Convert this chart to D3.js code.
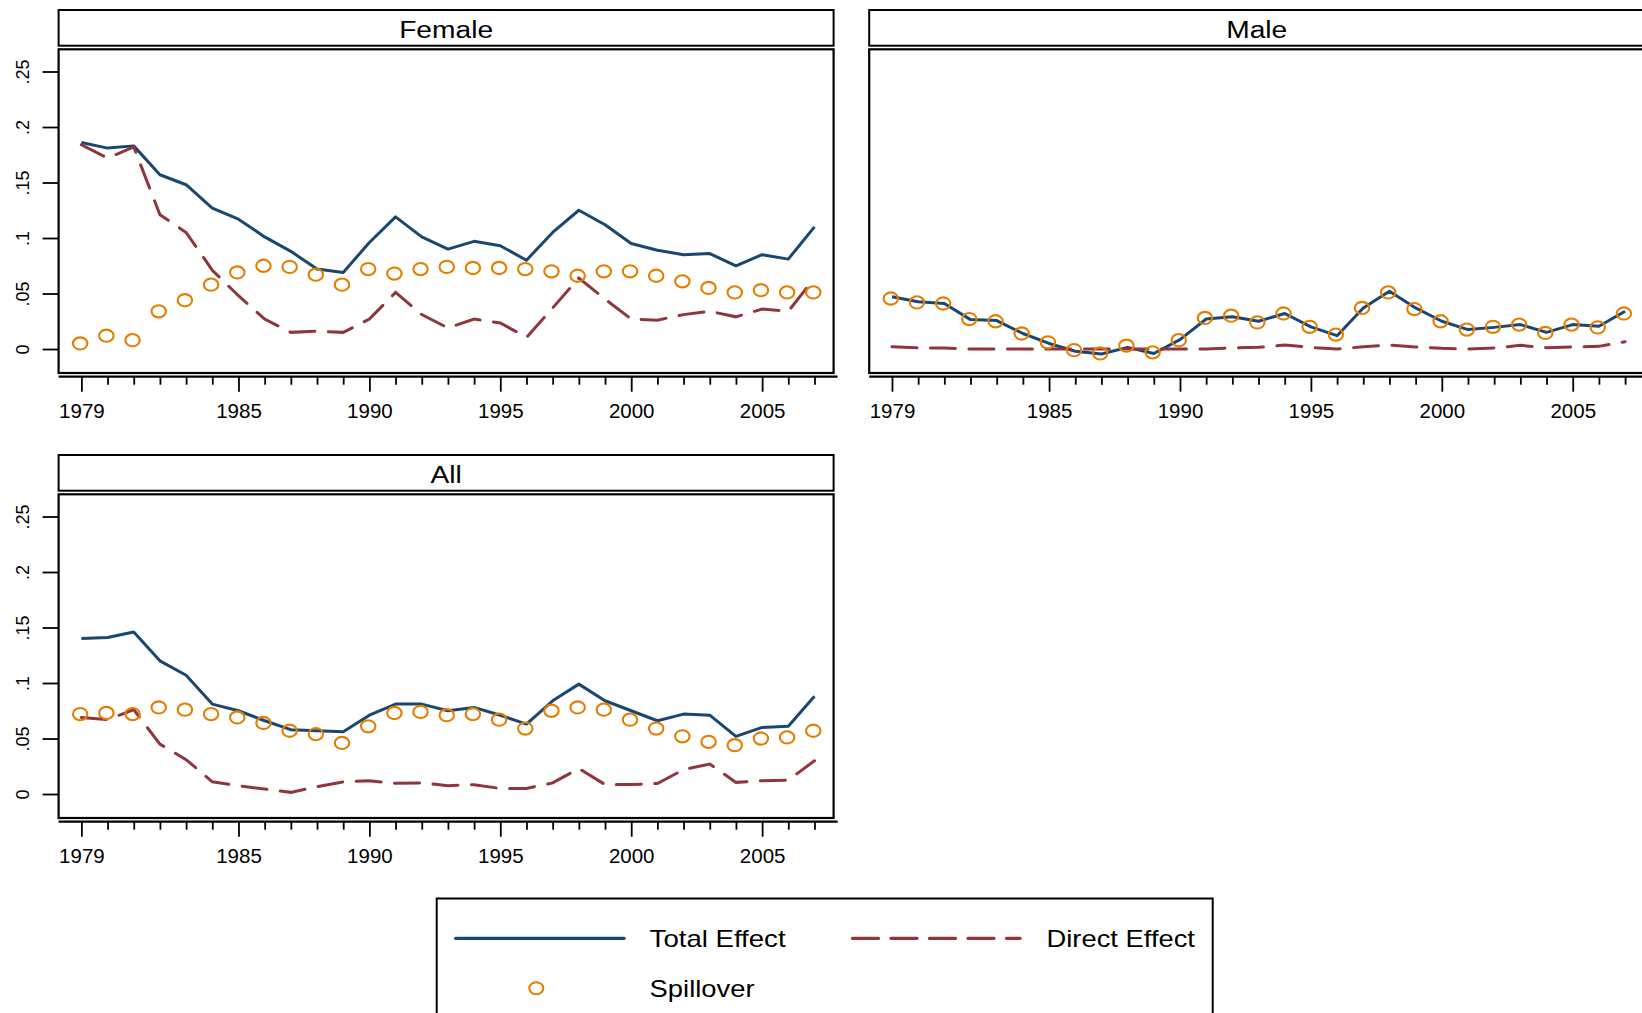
<!DOCTYPE html>
<html>
<head>
<meta charset="utf-8">
<script src="https://cdn.jsdelivr.net/npm/d3@7"></script>
<style>
  html, body { margin: 0; padding: 0; background: #fff; }
  svg { display: block; }
  text { font-family: "Liberation Sans", Arial, sans-serif; fill: #000; }
</style>
</head>
<body>
<svg id="chart" width="1642" height="1013"></svg>
<script>
// Effects by year, 1979–2007
const years = d3.range(1979, 2008);

const femaleTotal = [0.186,0.181,0.183,0.157,0.148,0.127,0.117,0.101,0.088,0.072,0.069,0.096,0.119,0.101,0.090,0.097,0.093,0.080,0.105,0.125,0.112,0.095,0.089,0.085,0.086,0.075,0.085,0.081,0.110];
const femaleDirect = [0.184,0.172,0.182,0.121,0.105,0.071,0.048,0.027,0.015,0.016,0.015,0.027,0.051,0.031,0.019,0.027,0.0235,0.0105,0.037,0.064,0.045,0.027,0.026,0.031,0.034,0.029,0.036,0.034,0.064];
const femaleSpill = [0.005,0.012,0.008,0.034,0.044,0.058,0.069,0.075,0.074,0.067,0.058,0.072,0.068,0.072,0.074,0.073,0.073,0.072,0.070,0.066,0.070,0.070,0.066,0.061,0.055,0.051,0.053,0.051,0.051];

const maleTotal = [0.047,0.0425,0.041,0.0265,0.0256,0.014,0.005,-0.002,-0.0045,0.0015,-0.004,0.0085,0.027,0.029,0.025,0.032,0.020,0.012,0.037,0.052,0.037,0.025,0.0175,0.0195,0.022,0.015,0.022,0.0205,0.034];
const maleDirect = [0.002,0.001,0.001,0,0,0,0,0,0,0,0,0,0,0.001,0.0015,0.0036,0.0015,0,0.002,0.0036,0.0018,0.0006,0,0.001,0.0033,0.0012,0.0018,0.0024,0.0066];
const maleSpill = [0.0455,0.042,0.041,0.027,0.025,0.014,0.006,-0.001,-0.004,0.003,-0.003,0.008,0.028,0.030,0.024,0.032,0.020,0.013,0.037,0.051,0.036,0.025,0.0175,0.020,0.022,0.0145,0.022,0.0195,0.032];

const allTotal = [0.140,0.141,0.146,0.120,0.107,0.081,0.075,0.066,0.058,0.057,0.056,0.071,0.081,0.081,0.075,0.078,0.071,0.063,0.084,0.099,0.084,0.075,0.066,0.072,0.071,0.052,0.060,0.061,0.088];
const allDirect = [0.069,0.067,0.076,0.045,0.031,0.011,0.0075,0.0045,0.0015,0.0066,0.011,0.012,0.0096,0.010,0.0075,0.0084,0.005,0.005,0.010,0.023,0.0085,0.0085,0.0095,0.022,0.027,0.0105,0.012,0.0125,0.030];
const allSpill = [0.072,0.073,0.072,0.078,0.076,0.072,0.069,0.064,0.057,0.054,0.046,0.061,0.073,0.074,0.071,0.072,0.067,0.059,0.075,0.078,0.076,0.067,0.059,0.052,0.047,0.044,0.050,0.051,0.057];

const panelNames = ["Female", "Male", "All"];
const seriesNames = ["Total Effect", "Direct Effect", "Spillover"];
const xTickValues = [1979, 1985, 1990, 1995, 2000, 2005];
const yTickValues = [0, 0.05, 0.1, 0.15, 0.2, 0.25];
const yTickLabels = ["0", ".05", ".1", ".15", ".2", ".25"];

const COLORS = { total: "#1a476f", direct: "#90353b", spill: "#e37e00" };
const DASH = "25,13.5";

// Panel geometry
const panelW = 775;
const titleH = 35.7;
const frameTop = 39.3, frameBot = 363, axisY = 366.7;

const panels = [
  { name: panelNames[0], x0: 58.6, y0: 10, yAxis: true, total: femaleTotal, direct: femaleDirect, spill: femaleSpill },
  { name: panelNames[1], x0: 869.2, y0: 10, yAxis: false, total: maleTotal, direct: maleDirect, spill: maleSpill },
  { name: panelNames[2], x0: 58.6, y0: 455, yAxis: true, total: allTotal, direct: allDirect, spill: allSpill }
];

const svg = d3.select("#chart");

const x = d3.scaleLinear().domain([1978.13, 2007.73]).range([0, panelW]);
const y = d3.scaleLinear().domain([-0.0216, 0.270]).range([frameBot, frameTop]);

panels.forEach(p => {
  const g = svg.append("g").attr("transform", `translate(${p.x0},${p.y0})`);

  // title strip
  g.append("rect")
    .attr("x", 0).attr("y", 0).attr("width", panelW).attr("height", titleH)
    .attr("fill", "#fff").attr("stroke", "#000").attr("stroke-width", 2);
  g.append("text")
    .attr("transform", `translate(${panelW / 2},27.8) scale(1.15,1)`)
    .attr("text-anchor", "middle")
    .attr("font-size", 24.5)
    .text(p.name);

  // plot frame
  g.append("rect")
    .attr("x", 0).attr("y", frameTop).attr("width", panelW).attr("height", frameBot - frameTop)
    .attr("fill", "none").attr("stroke", "#000").attr("stroke-width", 2.2);

  // x axis: minor ticks every year, labelled majors
  const xAxisG = g.append("g").attr("transform", `translate(0,${axisY})`);
  xAxisG.append("g")
    .call(d3.axisBottom(x).tickValues(years.filter(v => !xTickValues.includes(v))).tickSize(8).tickFormat(""))
    .call(a => a.select(".domain").remove())
    .call(a => a.selectAll(".tick line").attr("stroke", "#000").attr("stroke-width", 1.8));
  xAxisG.append("g")
    .call(d3.axisBottom(x).tickValues(xTickValues).tickSize(15).tickFormat(d3.format("d")))
    .call(a => a.select(".domain").remove())
    .call(a => a.selectAll(".tick line").attr("stroke", "#000").attr("stroke-width", 1.8))
    .call(a => a.selectAll(".tick text")
      .attr("y", 41).attr("dy", null)
      .attr("font-size", 20.5)
      .attr("font-family", "'Liberation Sans', Arial, sans-serif")
      .attr("fill", "#000"));
  xAxisG.append("line")
    .attr("x1", 0).attr("x2", panelW + 4).attr("y1", 0).attr("y2", 0)
    .attr("stroke", "#000").attr("stroke-width", 2.2);

  // y axis
  if (p.yAxis) {
    g.append("g")
      .call(d3.axisLeft(y).tickValues(yTickValues).tickSize(16)
        .tickFormat((d, i) => yTickLabels[i]))
      .call(a => a.select(".domain").remove())
      .call(a => a.selectAll(".tick line").attr("stroke", "#000").attr("stroke-width", 1.8))
      .call(a => a.selectAll(".tick text")
        .attr("x", null).attr("dy", null)
        .attr("transform", "translate(-30,0) rotate(-90)")
        .attr("text-anchor", "middle")
        .attr("font-size", 18)
        .attr("font-family", "'Liberation Sans', Arial, sans-serif")
        .attr("fill", "#000"));
  }

  // series
  const data = years.map((yr, i) => ({ yr, total: p.total[i], direct: p.direct[i], spill: p.spill[i] }));
  const clipId = "clip-" + p.name;
  g.append("clipPath").attr("id", clipId)
    .append("rect").attr("x", 0).attr("y", frameTop).attr("width", panelW).attr("height", frameBot - frameTop);
  const plot = g.append("g").attr("clip-path", `url(#${clipId})`);

  plot.append("path")
    .datum(data)
    .attr("fill", "none").attr("stroke", COLORS.total).attr("stroke-width", 3)
    .attr("stroke-linejoin", "round")
    .attr("d", d3.line().x(d => x(d.yr)).y(d => y(d.total)));

  plot.append("path")
    .datum(data)
    .attr("fill", "none").attr("stroke", COLORS.direct).attr("stroke-width", 3)
    .attr("stroke-dasharray", DASH).attr("stroke-linecap", "round")
    .attr("d", d3.line().x(d => x(d.yr)).y(d => y(d.direct)));

  plot.selectAll("ellipse.spill")
    .data(data)
    .join("ellipse")
    .attr("class", "spill")
    .attr("cx", d => x(d.yr) - 1.2).attr("cy", d => y(d.spill))
    .attr("rx", 7.2).attr("ry", 6.1)
    .attr("fill", "none").attr("stroke", COLORS.spill).attr("stroke-width", 2.1);
});

// legend
const leg = svg.append("g");
leg.append("rect")
  .attr("x", 436.7).attr("y", 898.5).attr("width", 776).attr("height", 200)
  .attr("fill", "#fff").attr("stroke", "#000").attr("stroke-width", 2);

leg.append("line")
  .attr("x1", 455.7).attr("x2", 624).attr("y1", 938.3).attr("y2", 938.3)
  .attr("stroke", COLORS.total).attr("stroke-width", 3.3).attr("stroke-linecap", "round");
leg.append("text")
  .attr("transform", "translate(649.6,946.7) scale(1.2,1)")
  .attr("font-size", 23).text(seriesNames[0]);

leg.append("line")
  .attr("x1", 852.5).attr("x2", 1020).attr("y1", 938.3).attr("y2", 938.3)
  .attr("stroke", COLORS.direct).attr("stroke-width", 3.3)
  .attr("stroke-dasharray", "26,12.5").attr("stroke-linecap", "round");
leg.append("text")
  .attr("transform", "translate(1046.5,946.7) scale(1.19,1)")
  .attr("font-size", 23).text(seriesNames[1]);

leg.append("ellipse")
  .attr("cx", 536.3).attr("cy", 988.3).attr("rx", 7).attr("ry", 6)
  .attr("fill", "none").attr("stroke", COLORS.spill).attr("stroke-width", 2.1);
leg.append("text")
  .attr("transform", "translate(649.6,996.5) scale(1.19,1)")
  .attr("font-size", 23).text(seriesNames[2]);
</script>
</body>
</html>
